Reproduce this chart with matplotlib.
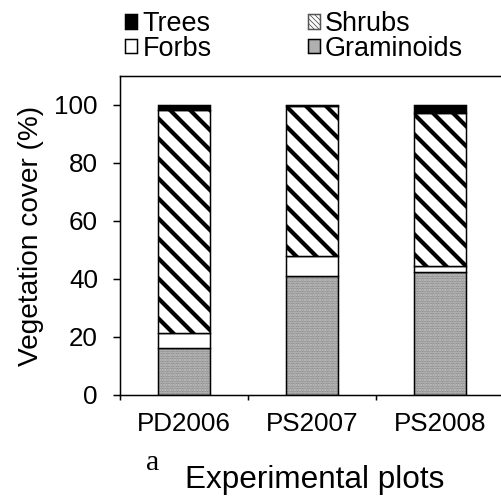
import numpy as np
import matplotlib
matplotlib.use('Agg')
import matplotlib.pyplot as plt
from matplotlib.patches import Patch

# data (% cover)
plots = ['PD2006', 'PS2007', 'PS2008']
graminoids = [16.3, 41.0, 42.5]
forbs = [5.0, 7.0, 2.1]
shrubs = [77.0, 51.7, 52.5]
trees = [1.7, 0.3, 2.9]

DPI = 60
PX = 72.0 / DPI  # points per pixel

plt.rcParams['font.family'] = ['Liberation Sans', 'DejaVu Sans']
plt.rcParams['hatch.color'] = 'black'

fig = plt.figure(figsize=(501 / DPI, 497 / DPI), dpi=DPI)
ax = fig.add_axes([120 / 501, 102 / 497, 384 / 501, 319 / 497])

x = np.arange(len(plots))
width = 0.41
g = np.array(graminoids)
f = np.array(forbs)
s = np.array(shrubs)
t = np.array(trees)
lw = 1.5 * PX

# graminoids: grey stipple, then a black outline on top
with plt.rc_context({'hatch.linewidth': 1.0 * PX}):
    ax.bar(x, g, width, color='#cfcfcf', edgecolor='#6e6e6e', hatch='......',
           linewidth=0, zorder=2)
ax.bar(x, g, width, facecolor='none', edgecolor='black', linewidth=lw, zorder=3)
ax.bar(x, f, width, bottom=g, color='white', edgecolor='black', linewidth=lw, zorder=3)
with plt.rc_context({'hatch.linewidth': 4.2 * PX}):
    ax.bar(x, s, width, bottom=g + f, color='white', edgecolor='black',
           hatch='\\', linewidth=lw, zorder=3)
ax.bar(x, t, width, bottom=g + f + s, color='black', edgecolor='black',
       linewidth=lw, zorder=3)

ax.set_xlim(-0.5, 2.5)
ax.set_ylim(0, 110)
ax.set_yticks([0, 20, 40, 60, 80, 100])
ax.set_xticks(x)
ax.set_xticklabels(plots)
ax.set_xticks([-0.5, 0.5, 1.5, 2.5], minor=True)

for sp in ax.spines.values():
    sp.set_linewidth(lw)
ax.tick_params(axis='y', direction='out', length=7 * PX, width=lw,
               pad=15 * PX, labelsize=26 * PX)
ax.tick_params(axis='x', which='major', length=0, pad=17 * PX, labelsize=26 * PX)
ax.tick_params(axis='x', which='minor', direction='out', length=5 * PX, width=lw)

fig.text(31 / 501, (497 - 236) / 497, 'Vegetation cover (%)', rotation=90,
         ha='center', va='center', fontsize=28 * PX)
fig.text(315 / 501, (497 - 488) / 497, 'Experimental plots', ha='center',
         va='baseline', fontsize=31.5 * PX)
fig.text(146 / 501, (497 - 470) / 497, 'a', ha='left', va='baseline',
         fontsize=30 * PX, family='Liberation Serif')

handles = [
    Patch(facecolor='black', edgecolor='black', linewidth=lw),
    Patch(facecolor='white', edgecolor='black', linewidth=lw),
    Patch(facecolor='white', edgecolor='#555555', hatch='\\\\\\\\', linewidth=lw),
    Patch(facecolor='#b0b0b0', edgecolor='black', linewidth=lw),
]
labels = ['Trees', 'Forbs', 'Shrubs', 'Graminoids']
fig.legend(handles, labels, loc='upper left', bbox_to_anchor=(125 / 501, 486 / 497),
           ncol=2, frameon=False, fontsize=27 * PX, borderpad=0, borderaxespad=0,
           handlelength=0.45, handleheight=0.45, handletextpad=0.2,
           columnspacing=3.55, labelspacing=-0.05)

fig.savefig('out.png', dpi=DPI)
